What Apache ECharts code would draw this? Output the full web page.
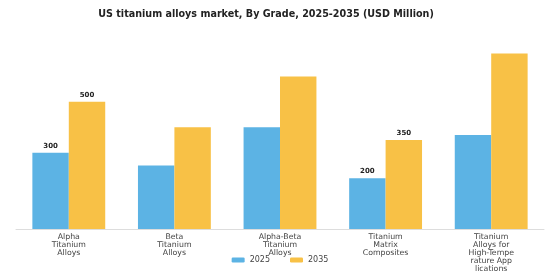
<!DOCTYPE html>
<html>
<head>
    <meta charset="utf-8">
    <title>US titanium alloys market</title>
    <script src="https://cdn.jsdelivr.net/npm/echarts@6/dist/echarts.min.js"></script>
    <style>
        html, body { margin: 0; padding: 0; background: #fff; }
        #chart { width: 560px; height: 280px; }
    </style>
</head>
<body>
<div id="chart"></div>
<script type="text/javascript">
    // categories and values
    var grades = ['Alpha\nTitanium\nAlloys', 'Beta\nTitanium\nAlloys', 'Alpha-Beta\nTitanium\nAlloys',
        'Titanium\nMatrix\nComposites', 'Titanium\nAlloys for\nHigh-Tempe\nrature App\nlications'];
    var values2025 = [300, 250, 400, 200, 370];
    var values2035 = [500, 400, 600, 350, 690];
    // only these bars carry a value label
    var labelled = [true, false, false, true, false];

    function withLabels(vals) {
        return vals.map(function (v, i) {
            return { value: v, label: { show: labelled[i] } };
        });
    }

    var myChart = echarts.init(document.getElementById('chart'));
    myChart.setOption({
        animation: false,
        title: {
            text: 'US titanium alloys market, By Grade, 2025-2035 (USD Million)',
            left: 261,
            textAlign: 'center',
            top: 4,
            textStyle: { fontSize: 9.6, fontWeight: 'bold', color: '#222', fontFamily: 'DejaVu Sans' }
        },
        legend: {
            data: ['2025', '2035'],
            bottom: 11,
            left: 'center',
            itemWidth: 13,
            itemHeight: 5,
            itemGap: 20,
            textStyle: { fontSize: 8, color: '#444', fontFamily: 'DejaVu Sans' }
        },
        grid: { left: 16, right: 16, top: 51, bottom: 51 },
        xAxis: {
            type: 'category',
            data: grades,
            axisTick: { show: false },
            axisLine: { lineStyle: { color: '#ddd' } },
            axisLabel: { fontSize: 7.8, lineHeight: 8, color: '#444', margin: 4, interval: 0, fontFamily: 'DejaVu Sans' }
        },
        yAxis: {
            type: 'value',
            min: 0,
            max: 700,
            show: false,
            splitLine: { show: false }
        },
        series: [{
            name: '2025',
            type: 'bar',
            data: withLabels(values2025),
            barGap: 0,
            barCategoryGap: '31%',
            itemStyle: { color: '#5cb3e4' },
            label: { position: 'top', fontSize: 7, fontWeight: 'bold', color: '#222', distance: 3, fontFamily: 'DejaVu Sans' }
        }, {
            name: '2035',
            type: 'bar',
            data: withLabels(values2035),
            barGap: 0,
            barCategoryGap: '31%',
            itemStyle: { color: '#f8c146' },
            label: { position: 'top', fontSize: 7, fontWeight: 'bold', color: '#222', distance: 3, fontFamily: 'DejaVu Sans' }
        }]
    });
</script>
</body>
</html>
